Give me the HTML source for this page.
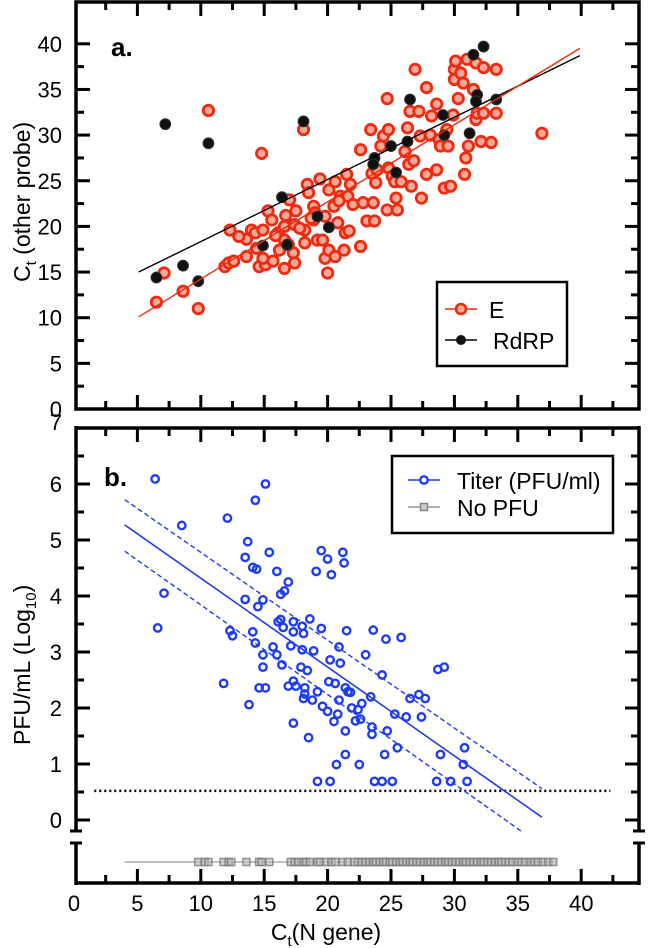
<!DOCTYPE html>
<html><head><meta charset="utf-8"><style>
html,body{margin:0;padding:0;background:#fff}
svg{display:block;font-family:"Liberation Sans",sans-serif}
</style></head><body>
<svg id="chart" width="648" height="948" viewBox="0 0 648 948" xmlns="http://www.w3.org/2000/svg"></svg>
<script>
// ---- data ----
const eX=[6.5,7.1,8.6,9.8,10.6,14.8,18.1,36.9,11.9,12.2,12.6,13.6,12.3,13.6,14.0,14.3,14.9,14.4,14.6,15.1,14.9,15.3,15.6,15.7,16.2,16.1,16.6,16.6,16.7,16.6,17.0,17.3,17.4,17.5,17.4,18.2,18.2,18.4,18.5,18.9,18.9,19.2,19.4,19.6,19.8,19.8,20.0,20.1,20.1,20.5,20.6,20.6,20.8,21.0,21.3,21.4,21.5,21.6,21.8,21.7,22.6,22.6,22.8,23.1,23.4,23.5,23.6,23.7,23.8,23.9,24.2,24.4,24.7,24.7,24.8,24.8,25.1,25.3,25.4,25.5,25.8,26.1,26.3,26.4,26.5,26.6,26.8,26.9,27.2,27.3,27.4,27.8,27.8,28.1,28.2,28.6,28.6,28.8,28.9,29.2,29.4,29.5,29.7,29.9,30.0,30.1,30.3,30.0,30.5,30.7,30.8,30.9,31.0,31.1,31.5,31.7,31.7,31.8,32.1,32.3,32.3,32.9,33.3,33.3,13.0,15.9,17.8,19.0,16.9,18.7,20.9,22.0];
const eY=[11.7,14.9,12.9,11.0,32.7,28.0,30.6,30.2,15.6,16.0,16.2,16.7,19.6,18.6,19.6,19.3,19.6,17.6,15.6,15.8,16.5,21.7,20.7,16.2,17.4,19.3,20.0,18.5,21.2,15.4,22.9,17.1,16.0,21.7,20.2,19.6,18.2,24.6,23.7,22.2,20.7,18.5,25.2,18.5,21.1,16.5,14.9,17.4,24.0,22.2,24.9,16.7,20.4,23.3,17.4,19.3,25.7,23.3,24.6,19.5,17.8,28.4,22.6,20.6,30.6,25.8,22.6,20.6,24.8,26.2,28.8,29.9,34.0,21.8,30.6,26.4,25.5,24.9,23.1,21.8,24.9,28.2,30.8,26.8,32.6,24.4,27.2,37.2,32.6,29.9,23.1,35.2,25.7,30.0,32.1,33.4,26.2,29.5,28.8,24.2,30.6,28.8,24.4,32.2,37.2,38.1,34.0,36.1,36.8,35.7,25.7,27.5,38.3,28.8,35.0,37.9,31.7,32.4,29.3,37.4,32.4,29.2,37.2,32.4,18.9,19.0,19.8,21.5,18.0,20.9,22.8,22.4];
const rX=[6.5,7.2,8.6,9.8,10.6,18.1,14.9,16.4,16.8,19.2,20.1,23.7,23.6,25.0,25.4,26.3,26.5,29.2,29.1,31.2,31.5,32.3,31.8,31.7,33.3];
const rY=[14.4,31.2,15.7,14.0,29.1,31.5,17.9,23.2,18.0,21.1,19.9,27.5,26.8,28.8,25.9,29.3,33.9,30.0,32.2,30.2,38.8,39.7,34.4,33.7,33.9];
const eFitX=[5.1,39.9], eFitY=[10.1,39.5];
const rFitX=[5.1,39.9], rFitY=[15.0,38.7];
const tX=[6.4,6.6,7.1,8.5,11.8,12.1,12.3,12.5,13.5,13.5,13.7,13.8,14.1,14.1,14.3,14.3,14.4,14.5,14.6,14.9,14.9,14.9,15.1,15.1,15.4,15.7,16.0,16.0,16.1,16.3,16.3,16.4,16.5,16.6,16.9,16.9,17.1,17.3,17.3,17.3,17.3,17.5,17.9,18.0,18.0,18.1,18.1,18.2,18.2,18.4,18.6,18.5,18.8,18.9,19.1,19.2,19.2,19.5,19.5,19.6,20.0,20.0,20.2,20.1,20.2,20.3,20.5,20.6,20.7,20.8,20.9,20.9,21.0,21.2,21.3,21.4,21.4,21.4,21.5,21.6,21.8,21.9,22.2,22.4,22.5,22.6,22.7,23.0,23.4,23.5,23.5,23.6,23.7,24.3,24.3,24.5,24.6,24.7,25.1,25.3,25.5,25.8,26.2,26.5,27.2,27.4,27.7,28.6,28.7,28.9,29.2,29.7,30.7,30.8,31.0];
const tY=[6.09,3.43,4.05,5.26,2.44,5.39,3.38,3.29,4.69,3.94,4.97,2.06,4.51,3.36,5.71,3.16,4.48,3.81,2.36,3.93,2.95,2.73,6.0,2.36,4.78,3.09,4.44,2.95,3.54,3.58,4.03,2.77,3.44,4.09,4.25,2.39,3.11,3.54,3.36,2.48,1.73,2.39,2.73,3.46,3.04,3.33,2.17,2.36,2.25,2.67,3.59,1.47,2.14,3.02,4.44,0.69,2.29,4.81,3.42,2.03,4.66,1.94,2.86,2.47,0.69,4.38,1.76,2.44,0.99,1.89,3.09,2.14,2.80,4.78,4.59,1.59,1.17,2.36,3.38,2.29,2.28,2.0,1.77,1.97,0.99,1.80,2.08,2.95,2.20,1.66,1.53,3.39,0.69,2.59,0.69,1.17,3.23,1.59,0.69,1.89,1.29,3.26,1.84,2.17,2.24,1.84,2.17,0.69,2.69,1.17,2.73,0.69,0.99,1.29,0.69];
const fitX=[4.0,36.9], fitY=[5.27,0.05];
const ciUpX=[4.0,36.9], ciUpY=[5.72,0.56];
const ciLoX=[4.0,35.4], ciLoY=[4.80,-0.22];
const limitY=0.52;
const noPfuX=[9.8,10.3,10.6,11.8,12.2,12.4,13.6,14.6,14.8,15.4,17.1,17.4,17.7,18.1,18.3,18.6,19.2,19.4,19.9,20.3,20.6,21.2,21.6,22.1,22.4,22.7,23.0,23.3,23.6,23.8,24.1,24.4,24.6,24.9,25.1,25.4,25.7,25.9,26.2,26.5,26.7,27.0,27.3,27.6,27.9,28.1,28.4,28.7,29.0,29.3,29.5,29.8,30.1,30.4,30.7,30.9,31.2,31.5,31.8,32.1,32.3,32.6,32.9,33.2,33.5,33.7,34.0,34.3,34.6,35.0,35.3,35.6,36.0,36.3,36.6,37.0,37.4,37.8];
const xTicks=[0,5,10,15,20,25,30,35,40];
const topYTicks=[0,5,10,15,20,25,30,35,40];
const botYTicks=[0,1,2,3,4,5,6,7];
// ---- scales ----
const X0=76, X1=639;
const xs=v=>74+12.68*v;
const yTop=v=>409-9.13*v;
const yBot=v=>820-56*v;
const NS="http://www.w3.org/2000/svg";
const svg=document.getElementById('chart');
function mk(tag,attrs,parent){const e=document.createElementNS(NS,tag);for(const k in attrs)e.setAttribute(k,attrs[k]);(parent||svg).appendChild(e);return e;}
function grp(name){const g=mk('g',{});return g;}

function ticks(g,yTopPix,yBotPix,yTickVals,ysc,minorStep){
  for(let v=0;v<=44;v+=2.5){const major=v%5===0;const L=major?14:8;const x=xs(v);if(x<X0+2||x>X1-2)continue;
    mk('line',{x1:x,y1:yBotPix,x2:x,y2:yBotPix-L,stroke:'#000','stroke-width':3},g);
    mk('line',{x1:x,y1:yTopPix,x2:x,y2:yTopPix+L,stroke:'#000','stroke-width':3},g);}
  const maxV=yTickVals[yTickVals.length-1];
  for(let v=0;v<=maxV+1e-9;v+=minorStep){const major=Math.abs(v-Math.round(v/(minorStep*2))*(minorStep*2))<1e-6;const L=major?14:8;const y=ysc(v);
    if(y>yBotPix-2||y<yTopPix+2)continue;
    mk('line',{x1:X0,y1:y,x2:X0+L,y2:y,stroke:'#000','stroke-width':3},g);
    mk('line',{x1:X1,y1:y,x2:X1-L,y2:y,stroke:'#000','stroke-width':3},g);}
}
const fTop=grp('top-panel-frame');
mk('rect',{x:X0,y:2,width:X1-X0,height:407,fill:'none',stroke:'#000','stroke-width':3.5},fTop);
ticks(fTop,2,409,topYTicks,yTop,2.5);
const fBot=grp('bottom-panel-frame');
mk('line',{x1:X0,y1:428,x2:X1,y2:428,stroke:'#000','stroke-width':3.5},fBot);
mk('line',{x1:X0-1.5,y1:883,x2:X1+1.5,y2:883,stroke:'#000','stroke-width':3.5},fBot);
[X0,X1].forEach(x=>{mk('line',{x1:x,y1:426,x2:x,y2:831,stroke:'#000','stroke-width':3.5},fBot);
  mk('line',{x1:x,y1:843,x2:x,y2:885,stroke:'#000','stroke-width':3.5},fBot);
  mk('line',{x1:x-6,y1:831,x2:x+6,y2:831,stroke:'#000','stroke-width':3},fBot);
  mk('line',{x1:x-6,y1:843,x2:x+6,y2:843,stroke:'#000','stroke-width':3},fBot);});
ticks(fBot,428,883,botYTicks,yBot,0.5);

const gl=grp('tick-labels');
topYTicks.forEach(v=>{const t=mk('text',{x:62,y:yTop(v)+8,'text-anchor':'end','font-size':22},gl);t.textContent=v;});
botYTicks.forEach(v=>{const t=mk('text',{x:62,y:yBot(v)+(v===7?2:8),'text-anchor':'end','font-size':22},gl);t.textContent=v;});
xTicks.forEach(v=>{const t=mk('text',{x:xs(v),y:911,'text-anchor':'middle','font-size':22},gl);t.textContent=v;});

let t=mk('text',{x:0,y:0,'font-size':23,transform:'translate(30,282) rotate(-90)'});t.innerHTML='C<tspan font-size="15" dy="6">t</tspan><tspan dy="-6"> (other probe)</tspan>';

t=mk('text',{x:0,y:0,'font-size':23,transform:'translate(30,745) rotate(-90)'});t.innerHTML='PFU/mL (Log<tspan font-size="15" dy="6">10</tspan><tspan dy="-6">)</tspan>';

t=mk('text',{x:326,y:940,'font-size':23,'text-anchor':'middle'});t.innerHTML='C<tspan font-size="15" dy="6">t</tspan><tspan dy="-6">(N gene)</tspan>';

t=mk('text',{x:111,y:56,'font-size':26,'font-weight':'bold'});t.textContent='a.';

t=mk('text',{x:104,y:486,'font-size':26,'font-weight':'bold'});t.textContent='b.';


const gE=grp('series-e');
eX.forEach((x,i)=>{const c=mk('circle',{cx:xs(x),cy:yTop(eY[i]),r:5.2,fill:'#f6a898',stroke:'#ee2a10','stroke-width':2.8},gE);
});
const gR=grp('series-rdrp');
rX.forEach((x,i)=>{const c=mk('circle',{cx:xs(x),cy:yTop(rY[i]),r:5.4,fill:'#111',stroke:'#333','stroke-width':1},gR);
});
let l=mk('line',{x1:xs(rFitX[0]),y1:yTop(rFitY[0]),x2:xs(rFitX[1]),y2:yTop(rFitY[1]),stroke:'#000','stroke-width':1.4});

l=mk('line',{x1:xs(eFitX[0]),y1:yTop(eFitY[0]),x2:xs(eFitX[1]),y2:yTop(eFitY[1]),stroke:'#ee2a10','stroke-width':1.4});


const lg1=grp('legend-top');
mk('rect',{x:437,y:282,width:130,height:84,fill:'#fff',stroke:'#000','stroke-width':2.5},lg1);
mk('line',{x1:445,y1:309,x2:477,y2:309,stroke:'#ee2a10','stroke-width':1.5},lg1);
mk('circle',{cx:461,cy:309,r:5,fill:'#f6a898',stroke:'#ee2a10','stroke-width':2.6},lg1);
t=mk('text',{x:489,y:318,'font-size':23},lg1);t.textContent='E';
mk('line',{x1:445,y1:340,x2:477,y2:340,stroke:'#000','stroke-width':1.5},lg1);
mk('circle',{cx:461,cy:340,r:5,fill:'#111'},lg1);
t=mk('text',{x:493,y:349,'font-size':23},lg1);t.textContent='RdRP';

l=mk('line',{x1:xs(1.6),y1:yBot(limitY),x2:xs(42.3),y2:yBot(limitY),stroke:'#000','stroke-width':2.4,'stroke-dasharray':'2 3'});

l=mk('line',{x1:xs(fitX[0]),y1:yBot(fitY[0]),x2:xs(fitX[1]),y2:yBot(fitY[1]),stroke:'#1f3df0','stroke-width':1.6});

l=mk('line',{x1:xs(ciUpX[0]),y1:yBot(ciUpY[0]),x2:xs(ciUpX[1]),y2:yBot(ciUpY[1]),stroke:'#1f3df0','stroke-width':1.4,'stroke-dasharray':'5 3'});

l=mk('line',{x1:xs(ciLoX[0]),y1:yBot(ciLoY[0]),x2:xs(ciLoX[1]),y2:yBot(ciLoY[1]),stroke:'#1f3df0','stroke-width':1.4,'stroke-dasharray':'5 3'});

const gT=grp('series-titer');
tX.forEach((x,i)=>{const c=mk('circle',{cx:xs(x),cy:yBot(tY[i]),r:3.7,fill:'none',stroke:'#1f3df0','stroke-width':2.4},gT);
});
const gN=grp('series-no-pfu');
const rowY=862;
mk('line',{x1:xs(4),y1:rowY,x2:xs(38),y2:rowY,stroke:'#999','stroke-width':1.2},gN);
noPfuX.forEach(x=>{const r=mk('rect',{x:xs(x)-3.5,y:rowY-3.5,width:7,height:7,fill:'#bbb',stroke:'#777','stroke-width':1.6,'fill-opacity':0.6,'stroke-opacity':0.75},gN);
});

const lg2=grp('legend-bottom');
mk('rect',{x:392,y:456,width:221,height:77,fill:'#fff',stroke:'#000','stroke-width':2.5},lg2);
mk('line',{x1:408,y1:480,x2:440,y2:480,stroke:'#1f3df0','stroke-width':1.5},lg2);
mk('circle',{cx:424,cy:480,r:3.7,fill:'#fff',stroke:'#1f3df0','stroke-width':2.4},lg2);
t=mk('text',{x:457,y:489,'font-size':23},lg2);t.textContent='Titer (PFU/ml)';
mk('line',{x1:408,y1:507,x2:440,y2:507,stroke:'#999','stroke-width':1.5},lg2);
mk('rect',{x:420.5,y:503.5,width:7,height:7,fill:'#ccc',stroke:'#888','stroke-width':1.5},lg2);
t=mk('text',{x:457,y:516,'font-size':23},lg2);t.textContent='No PFU';
</script>
</body></html>
